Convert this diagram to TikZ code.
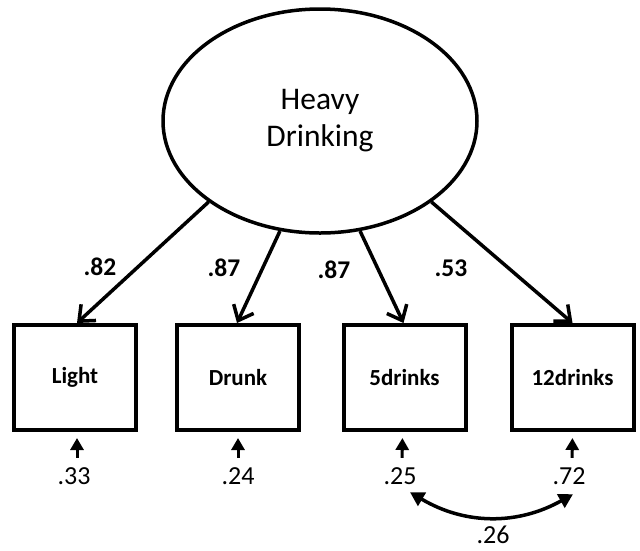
\documentclass[tikz,border=0pt]{standalone}
\usepackage{fontspec}
\setmainfont{Carlito}
\usetikzlibrary{arrows.meta,shapes.geometric}
\begin{document}
\begin{tikzpicture}[x=1pt,y=-1pt,
  latent/.style={draw,ellipse,line width=3.5pt,minimum width=314pt,minimum height=224pt,inner sep=0pt,align=center,font=\fontsize{31.5}{37}\selectfont},
  obs/.style={draw,rectangle,line width=4pt,minimum width=122pt,minimum height=105pt,inner sep=0pt,font=\bfseries\fontsize{23}{26}\selectfont},
  loadnum/.style={inner sep=0pt,text height=16pt,text depth=0pt,font=\bfseries\fontsize{25.5}{28}\selectfont},
  errnum/.style={inner sep=0pt,text height=16pt,text depth=0pt,font=\fontsize{26}{28}\selectfont},
  loadarrow/.style={line width=3.5pt,-{Straight Barb[length=13pt,width=22pt,line width=3.5pt]}},
  errarrow/.style={line width=3pt,-{Triangle[length=12pt,width=13pt]},shorten <=10pt,shorten >=6pt},
  covarrow/.style={line width=3.5pt,{Triangle[length=14pt,width=15pt]}-{Triangle[length=14pt,width=15pt]}}
]
\useasboundingbox (0,0) rectangle (640,550);
\node[latent] (hd) at (320,121) {Heavy\\Drinking};
\node[obs] (light) at (75,377.5) {Light};
\node[obs] (drunk) at (238,377.5) {Drunk};
\node[obs] (five) at (404.5,377.5) {5drinks};
\node[obs] (twelve) at (572.5,377.5) {12drinks};

\draw[loadarrow] (hd.216) -- ([xshift=2pt]light.north);
\draw[loadarrow] (hd.250) -- ([xshift=-1pt]drunk.north);
\draw[loadarrow] (hd.290) -- ([xshift=-1pt]five.north);
\draw[loadarrow] (hd.324) -- (twelve.north);

\node[loadnum] (l1) at (100,267) {.82};
\node[loadnum] (l2) at (224,268) {.87};
\node[loadnum] (l3) at (334,270) {.87};
\node[loadnum] (l4) at (451,268) {.53};

\node[errnum] (e1) at (74,476) {.33};
\node[errnum] (e2) at (238,476) {.24};
\node[errnum] (e3) at (400,476) {.25};
\node[errnum] (e4) at (569,476) {.72};

\draw[errarrow] ([xshift=3pt]e1.north) -- ([xshift=2pt]light.south);
\draw[errarrow] (e2.north) -- (drunk.south);
\draw[errarrow] ([xshift=2pt]e3.north) -- ([xshift=-2pt]five.south);
\draw[errarrow] ([xshift=3pt]e4.north) -- (twelve.south);

\draw[covarrow] ([xshift=10pt,yshift=-8pt]e3.south) to[bend right=30] ([xshift=4pt,yshift=-10pt]e4.south);
\node[errnum] (c34) at (493,535) {.26};
\end{tikzpicture}
\end{document}
